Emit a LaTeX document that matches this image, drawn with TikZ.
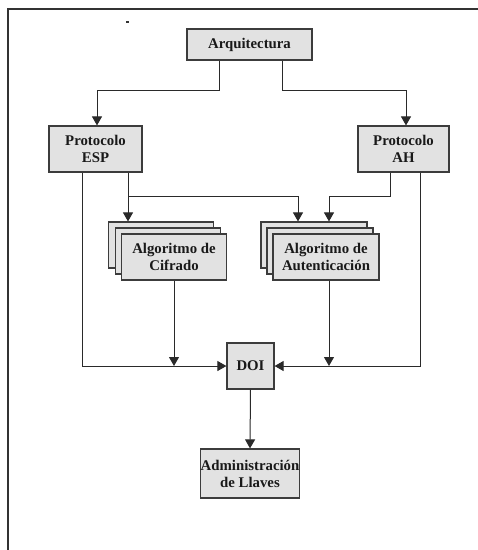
\documentclass[tikz,border=0pt]{standalone}
\usepackage{fontspec}
\setmainfont{Liberation Serif}
\usetikzlibrary{arrows.meta}
\definecolor{boxfill}{HTML}{E2E2E2}
\definecolor{boxline}{HTML}{3C3C3C}
\definecolor{wire}{HTML}{2A2A2A}
\tikzset{
  box/.style={draw=boxline, fill=boxfill, line width=1.2pt, align=center,
    inner sep=0pt, font=\fontsize{14.8}{17}\selectfont\bfseries, text=black!90},
  plate/.style={draw=boxline, fill=boxfill, line width=1.2pt, inner sep=0pt},
  wireline/.style={draw=wire, line width=1pt},
  arr/.style={wireline, -{Triangle[length=9pt, width=10pt]}}
}
\begin{document}
\begin{tikzpicture}[x=1pt, y=-1pt]
  \useasboundingbox (0,0) rectangle (478,550);
  % page frame
  \draw[line width=1.5pt, black!80] (8,550) -- (8,9) -- (478,9);
  \fill[black!80] (126,21) rectangle (129,23);

  % top level
  \node[box, minimum width=125pt, minimum height=31pt] (arq) at (249.5,44.5) {Arquitectura};
  \node[box, minimum width=93pt, minimum height=46pt] (esp) at (95.5,149) {Protocolo\\ESP};
  \node[box, minimum width=91pt, minimum height=46pt] (ah) at (403.5,149) {Protocolo\\AH};

  % stacked algorithm boxes
  \node[plate, minimum width=105pt, minimum height=46pt] (cifA) at (161,245) {};
  \node[plate, minimum width=105pt, minimum height=46pt] (cifB) at (168,251) {};
  \node[box, minimum width=105pt, minimum height=46pt] (cif) at (174,257) {Algoritmo de\\Cifrado};
  \node[plate, minimum width=106pt, minimum height=46pt] (autA) at (314,245) {};
  \node[plate, minimum width=106pt, minimum height=46pt] (autB) at (320,251) {};
  \node[box, minimum width=106pt, minimum height=46pt] (aut) at (326,257) {Algoritmo de\\Autenticación};

  % bottom level
  \node[box, minimum width=47pt, minimum height=46pt] (doi) at (250.5,366) {DOI};
  \node[box, minimum width=94pt, minimum height=49pt] (adm) at (250,473.5) {Administración\\de Llaves};

  % connectors
  \draw[arr] ([xshift=-30.5pt]arq.south) -- ++(0,30) -| ([xshift=1.5pt]esp.north);
  \draw[arr] ([xshift=32.5pt]arq.south) -- ++(0,30) -| ([xshift=2.5pt]ah.north);

  \draw[arr] ([xshift=32.5pt]esp.south) coordinate (e2) -- (e2 |- cifA.north);
  \draw[arr] ([xshift=32.5pt,yshift=-24pt]esp.south) -| ([xshift=-16pt]autA.north);
  \draw[arr] ([xshift=-13.5pt]ah.south) -- ++(0,24) -| ([xshift=15pt]autA.north);

  \draw[arr] ([xshift=-13.5pt]esp.south) |- (doi.west);
  \draw[arr] ([xshift=16.5pt]ah.south) |- (doi.east);
  \draw[arr] (cif.south) -- (cif.south |- doi.west);
  \draw[arr] ([xshift=3pt]aut.south) coordinate (a2) -- (a2 |- doi.east);

  \draw[arr] (doi.south) -- (adm.north);
\end{tikzpicture}
\end{document}
